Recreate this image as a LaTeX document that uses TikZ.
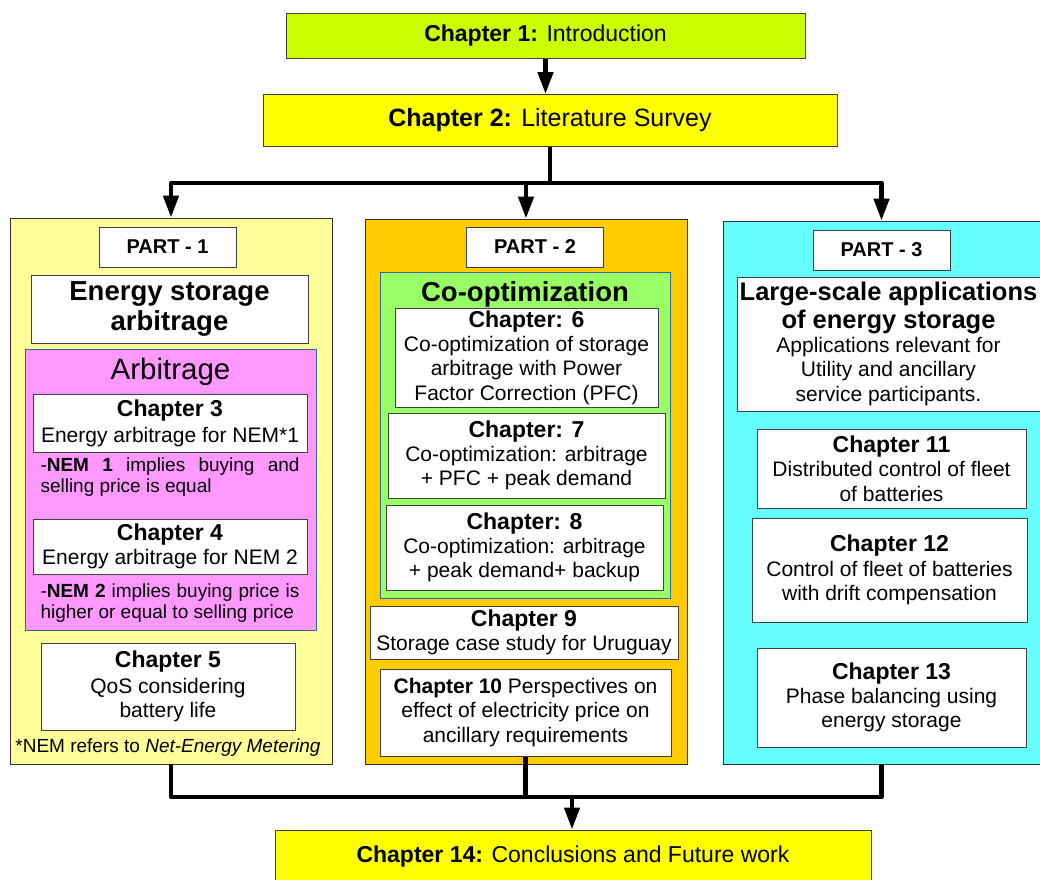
\documentclass[tikz,border=0pt]{standalone}
\usepackage{fontspec}
\setmainfont{Liberation Sans}
\usetikzlibrary{arrows.meta}

\definecolor{introgreen}{HTML}{CCFF00}
\definecolor{survey}{HTML}{FFFF00}
\definecolor{partone}{HTML}{FFFF99}
\definecolor{parttwo}{HTML}{FFCC00}
\definecolor{partthree}{HTML}{66FFFF}
\definecolor{arbpink}{HTML}{FF99FF}
\definecolor{cooptgreen}{HTML}{99FF66}
\definecolor{framblue}{HTML}{3465A4}

\newcommand{\chaphead}[1]{{\bfseries\fontsize{23}{26}\selectfont #1}}

\begin{document}
\begin{tikzpicture}[x=1pt, y=-1pt,
  box/.style = {draw=black!75, line width=1pt, fill=white, align=center,
    inner sep=0pt, font=\fontsize{21}{24.3}\selectfont},
  partbox/.style = {draw=black!80, line width=0.8pt, inner sep=0pt},
  inbox/.style = {draw=framblue, line width=0.8pt, inner sep=0pt},
  partlabel/.style = {box, font=\bfseries\fontsize{20}{23}\selectfont,
    minimum width=137pt, minimum height=40pt},
  note/.style = {align=justify, text width=259pt, inner sep=0pt,
    font=\fontsize{19}{21}\selectfont},
  link/.style = {line width=4.5pt, line join=round},
  flow/.style = {link, -{Triangle[width=15pt,length=22pt]}}]

\useasboundingbox (0,0) rectangle (1040,879);

% top chapters
\node[box, fill=introgreen, minimum width=519pt, minimum height=45pt,
  font=\fontsize{23}{26}\selectfont] (ch1) at (545.5,36)
  {\textbf{Chapter 1:} Introduction};
\node[box, fill=survey, minimum width=574pt, minimum height=52pt,
  font=\fontsize{25}{28}\selectfont] (ch2) at (550,120.5)
  {\textbf{Chapter 2:} Literature Survey};

% the three parts
\node[partbox, fill=partone, minimum width=322pt, minimum height=546pt] (part1) at (171,491) {};
\node[partbox, fill=parttwo, minimum width=322pt, minimum height=545pt] (part2) at (526,491.5) {};
\node[partbox, fill=partthree, minimum width=317pt, minimum height=543pt] (part3) at (881.5,492.5) {};

% part 1
\node[partlabel] (p1label) at (167.5,247) {PART - 1};
\node[box, font=\bfseries\fontsize{27.5}{30}\selectfont, minimum width=277pt,
  minimum height=68pt] (esa) at (169.5,309) {Energy storage\\arbitrage};
\node[inbox, fill=arbpink, minimum width=291pt, minimum height=281pt] (arbbox) at (170.5,489.5) {};
\node[font=\fontsize{29.5}{32}\selectfont, inner sep=0pt] (arbtitle) at (170.5,372) {Arbitrage};
\node[box, minimum width=274pt, minimum height=58pt] (ch3) at (170,423)
  {\chaphead{Chapter 3}\\[1.5pt]Energy arbitrage for NEM*1};
\node[note] (nem1) at (170,477) {-\textbf{NEM 1} implies buying and \mbox{selling} price is equal};
\node[box, minimum width=274pt, minimum height=55pt] (ch4) at (170,546.5)
  {\chaphead{Chapter 4}\\Energy arbitrage for NEM 2};
\node[note] (nem2) at (170,603) {-\textbf{NEM 2} implies buying price is higher or equal to selling price};
\node[box, minimum width=254pt, minimum height=87pt] (ch5) at (168,686.5)
  {\chaphead{Chapter 5}\\[1.5pt]QoS considering\\battery life};
\node[font=\fontsize{19}{21}\selectfont, inner sep=0pt] (nemfoot) at (168,748)
  {*NEM refers to \textit{Net-Energy Metering}};

% part 2
\node[partlabel] (p2label) at (535,247) {PART - 2};
\node[inbox, fill=cooptgreen, minimum width=290pt, minimum height=326pt] (cooptbox) at (525,435) {};
\node[font=\bfseries\fontsize{27.5}{30}\selectfont, inner sep=0pt] (cooptitle) at (525,294) {Co-optimization};
\node[box, minimum width=263pt, minimum height=99pt] (ch6) at (526.5,357.5)
  {\chaphead{Chapter: 6}\\Co-optimization of storage\\arbitrage with Power\\Factor Correction (PFC)};
\node[box, minimum width=277pt, minimum height=85pt] (ch7) at (526.5,455.5)
  {\chaphead{Chapter: 7}\\Co-optimization: arbitrage\\+ PFC + peak demand};
\node[box, minimum width=277pt, minimum height=85pt] (ch8) at (524.5,547.5)
  {\chaphead{Chapter: 8}\\Co-optimization: arbitrage\\+ peak demand+ backup};
\node[box, minimum width=308pt, minimum height=53pt] (ch9) at (524,632.5)
  {\chaphead{Chapter 9}\\Storage case study for Uruguay};
\node[box, minimum width=291pt, minimum height=87pt] (ch10) at (525.5,712.5)
  {\textbf{Chapter 10} Perspectives on\\effect of electricity price on\\ancillary requirements};

% part 3
\node[partlabel] (p3label) at (881.5,250) {PART - 3};
\node[box, minimum width=303pt, minimum height=134pt] (large) at (888.5,344)
  {{\bfseries\fontsize{25.5}{29}\selectfont Large-scale applications}\\[3pt]
   {\bfseries\fontsize{25.5}{29}\selectfont of energy storage}\\
   Applications relevant for\\Utility and ancillary\\service participants.};
\node[box, minimum width=269pt, minimum height=79pt] (ch11) at (891.5,468.5)
  {\chaphead{Chapter 11}\\Distributed control of fleet\\of batteries};
\node[box, minimum width=275pt, minimum height=104pt] (ch12) at (889.5,570)
  {\chaphead{Chapter 12}\\Control of fleet of batteries\\with drift compensation};
\node[box, minimum width=269pt, minimum height=99pt] (ch13) at (891.5,697.5)
  {\chaphead{Chapter 13}\\Phase balancing using\\energy storage};

% last chapter
\node[box, fill=survey, minimum width=596pt, minimum height=54pt,
  font=\fontsize{23}{26}\selectfont] (ch14) at (573,857)
  {\textbf{Chapter 14:} Conclusions and Future work};

% connectors
\coordinate (split) at (550,183);
\coordinate (merge) at (572,797);
\draw[flow] (ch1.south) -- (ch1.south |- ch2.north);
\draw[link] (ch2.south) -- (split);
\draw[flow] (split) -| (part1.north);
\draw[flow] (split) -| (part2.north);
\draw[flow] (split) -| (part3.north);
\draw[link] (part1.south) |- (merge);
\draw[link] (ch10.south) |- (merge);
\draw[link] (part3.south) |- (merge);
\draw[flow] (merge) -- (merge |- ch14.north);
\end{tikzpicture}
\end{document}
